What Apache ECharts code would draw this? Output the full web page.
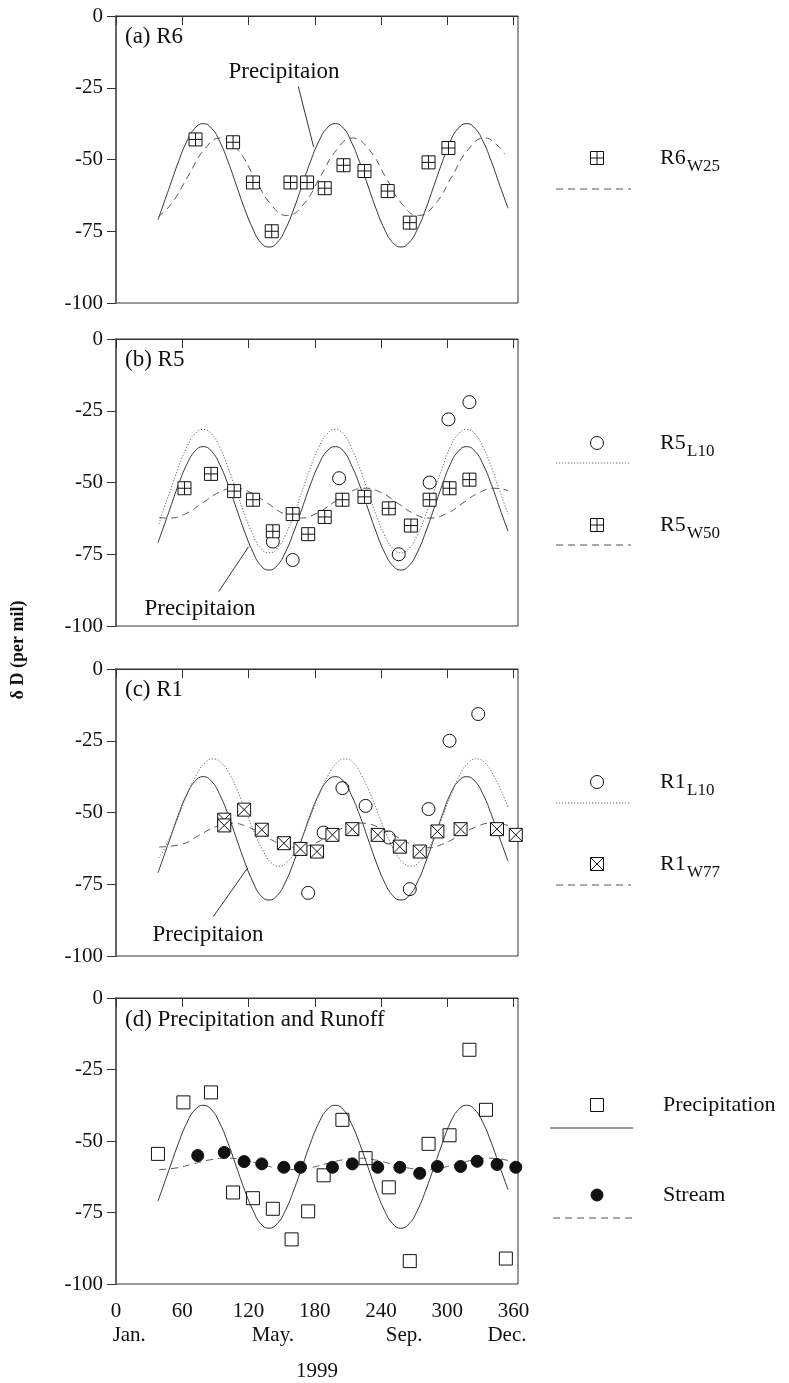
<!DOCTYPE html>
<html>
<head>
<meta charset="utf-8">
<script src="https://cdn.jsdelivr.net/npm/echarts@6/dist/echarts.min.js"></script>
<style>
html, body { margin: 0; background: #fff; }
#main { width: 789px; height: 1383px; }
</style>
</head>
<body>
<div id="main"></div>
<script>
// x = day of year 1999, y = delta D (per mil)
var dayTicks = [0, 60, 120, 180, 240, 300, 360];
var monthDays = [12, 142, 261, 354];
var monthNames = ['Jan.', 'May.', 'Sep.', 'Dec.'];

// precipitation fit curve, same in every panel
var precipFit = [[38,-71],[41.5,-67.2],[49,-59],[56.5,-50.8],[64,-43.8],[71.5,-39.1],[79,-37.5],[86.5,-39.1],[94,-43.8],[101.5,-50.8],[109,-59],[116.5,-67.2],[124,-74.2],[131,-78.9],[138.5,-80.5],[146,-78.9],[153.5,-74.2],[161,-67.2],[168.5,-59],[176,-50.8],[183.5,-43.8],[191,-39.1],[198.5,-37.5],[206,-39.1],[213,-43.8],[220.5,-50.8],[228,-59],[235.5,-67.2],[243,-74.2],[250.5,-78.9],[258,-80.5],[265.5,-78.9],[273,-74.2],[280.5,-67.2],[288,-59],[295.5,-50.8],[302.5,-43.8],[310,-39.1],[317.5,-37.5],[325,-39.1],[332.5,-43.8],[340,-50.8],[347.5,-59],[355,-67]];

// (a) R6
var r6W25Fit = [[38,-70],[50,-65.5],[65,-56],[80,-46.5],[95,-42.5],[110,-46.5],[125,-56],[140,-65.5],[155,-69.5],[170,-65.5],[185,-56],[200,-46.5],[214,-42.5],[229,-46.5],[244,-56],[259,-65.5],[274,-69.5],[289,-65.5],[304,-56],[319,-46.5],[334,-42.5],[345,-45],[352,-48]];
var r6W25 = [[72,-43],[106,-44],[124,-58],[141,-75],[158,-58],[173,-58],[189,-60],[206,-52],[225,-54],[246,-61],[266,-72],[283,-51],[301,-46]];

// (b) R5
var r5L10Fit = [[39,-64.5],[41.5,-61.2],[49,-53],[56.5,-44.8],[64,-37.8],[71.5,-33.1],[79,-31.5],[86.5,-33.1],[94,-37.8],[101.5,-44.8],[109,-53],[116.5,-61.2],[124,-68.2],[131,-72.9],[138.5,-74.5],[146,-72.9],[153.5,-68.2],[161,-61.2],[168.5,-53],[176,-44.8],[183.5,-37.8],[191,-33.1],[198.5,-31.5],[206,-33.1],[213,-37.8],[220.5,-44.8],[228,-53],[235.5,-61.2],[243,-68.2],[250.5,-72.9],[258,-74.5],[265.5,-72.9],[273,-68.2],[280.5,-61.2],[288,-53],[295.5,-44.8],[302.5,-37.8],[310,-33.1],[317.5,-31.5],[325,-33.1],[332.5,-37.8],[340,-44.8],[347.5,-53],[355,-61]];
var r5W50Fit = [[39,-62.2],[48,-62.4],[63,-60.9],[78,-57.2],[93,-53.5],[107,-52],[122,-53.5],[137,-57.2],[152,-60.9],[166,-62.4],[181,-60.9],[196,-57.2],[211,-53.5],[225,-52],[240,-53.5],[255,-57.2],[270,-60.9],[284,-62.4],[299,-60.9],[314,-57.2],[329,-53.5],[343,-52],[355,-52.8]];
var r5L10 = [[142,-70.6],[160,-77],[202,-48.5],[256,-75],[284,-50],[301,-28],[320,-22]];
var r5W50 = [[62,-52],[86,-47],[107,-53],[124,-56],[142,-67],[160,-61],[174,-68],[189,-62],[205,-56],[225,-55],[247,-59],[267,-65],[284,-56],[302,-52],[320,-49]];

// (c) R1
var r1L10Fit = [[39,-65.8],[43,-63.2],[50.5,-57.2],[58,-50],[65.5,-42.8],[73,-36.8],[80.5,-32.7],[88,-31.3],[95.5,-32.7],[103,-36.8],[110.5,-42.8],[118,-50],[125.5,-57.2],[133,-63.2],[140,-67.3],[147.5,-68.7],[155,-67.3],[162.5,-63.2],[170,-57.2],[177.5,-50],[185,-42.8],[192.5,-36.8],[200,-32.7],[207.5,-31.3],[215,-32.7],[222,-36.8],[229.5,-42.8],[237,-50],[244.5,-57.2],[252,-63.2],[259.5,-67.3],[267,-68.7],[274.5,-67.3],[282,-63.2],[289.5,-57.2],[297,-50],[304.5,-42.8],[311.5,-36.8],[319,-32.7],[326.5,-31.3],[334,-32.7],[341.5,-36.8],[349,-42.8],[355,-48]];
var r1W77Fit = [[39,-62],[60,-61],[75,-58],[90,-55],[104,-53.7],[119,-55],[134,-58],[149,-61],[163,-62.3],[178,-61],[193,-58],[208,-55],[222,-53.7],[237,-55],[252,-58],[267,-61],[281,-62.3],[296,-61],[311,-58],[326,-55],[340,-53.7],[355,-54.5]];
var r1L10 = [[174,-78],[188,-57],[205,-41.5],[226,-47.7],[247,-58.7],[266,-76.7],[283,-48.8],[302,-25],[328,-15.7]];
var r1W77 = [[98,-52.5],[98,-54.5],[116,-49],[132,-56],[152,-60.7],[167,-62.7],[182,-63.6],[196,-57.8],[214,-55.8],[237,-57.8],[257,-61.9],[275,-63.6],[291,-56.6],[312,-55.8],[345,-55.8],[362,-57.8]];

// (d) precipitation and runoff
var streamFit = [[39,-60],[55,-59.4],[70,-58],[85,-56.6],[100,-56],[115,-56.6],[130,-58],[145,-59.4],[160,-60],[175,-59.4],[190,-58],[205,-56.6],[219,-56],[234,-56.6],[249,-58],[264,-59.4],[279,-60],[294,-59.4],[309,-58],[324,-56.6],[338,-56],[355,-56.8]];
var precipObs = [[38,-54.5],[61,-36.5],[86,-33],[106,-68],[124,-70],[142,-73.7],[159,-84.4],[174,-74.6],[188,-62],[205,-42.6],[226,-56],[247,-66.2],[266,-92],[283,-51],[302,-48],[320,-18.1],[335,-39.1],[353,-91.1]];
var stream = [[74,-55.1],[98,-54],[116,-57.2],[132,-58],[152,-59.2],[167,-59.2],[196,-59.2],[214,-58],[237,-59.2],[257,-59.2],[275,-61.3],[291,-58.9],[312,-58.9],[327,-57.1],[345,-58.2],[362,-59.2]];

// "Precipitaion" leader lines, in data units
var leaders = [
  [[165,-24.5],[179,-45.7]],
  [[93,-88],[120,-72.4]],
  [[88,-86.3],[119,-69.4]]
];

var SERIF = '"Liberation Serif", "DejaVu Serif", serif';
var INK = '#111';
var boxPlus = 'path://M0,0L10,0L10,10L0,10Z M5,0L5,10 M0,5L10,5';
var boxCross = 'path://M0,0L10,0L10,10L0,10Z M0,0L10,10 M10,0L0,10';
var DASH = [7, 5];
var DOT = [1.2, 1.8];

var tops = [16, 339, 669, 998];

var grids = tops.map(function (t) {
  return { left: 116, width: 402, top: t, height: 287, show: true, borderColor: '#333', borderWidth: 1 };
});

var xAxes = tops.map(function (t, i) {
  var ax = {
    gridIndex: i, type: 'value', min: 0, max: 364, position: 'bottom',
    axisLine: { lineStyle: { color: '#333', width: 1 } },
    axisTick: { show: true, length: 9, customValues: dayTicks, lineStyle: { color: '#333' } },
    axisLabel: { show: i === 3, customValues: dayTicks, margin: 17, fontFamily: SERIF, fontSize: 21, color: INK },
    splitLine: { show: false }
  };
  if (i === 3) {
    ax.name = '1999';
    ax.nameLocation = 'middle';
    ax.nameGap = 77;
    ax.nameTextStyle = { fontFamily: SERIF, fontSize: 21, color: INK };
  }
  return ax;
});
// month names under the day numbers
xAxes.push({
  gridIndex: 3, type: 'value', min: 0, max: 364, position: 'bottom',
  axisLine: { show: false }, axisTick: { show: false }, splitLine: { show: false },
  axisLabel: {
    customValues: monthDays, margin: 41, fontFamily: SERIF, fontSize: 21, color: INK,
    formatter: function (v) { return monthNames[monthDays.indexOf(v)]; }
  }
});

var yAxes = tops.map(function (t, i) {
  return {
    gridIndex: i, type: 'value', min: -100, max: 0, interval: 25,
    axisLine: { show: true, lineStyle: { color: '#666', width: 2 } },
    axisTick: { show: true, length: 9, lineStyle: { color: '#333' } },
    axisLabel: { margin: 13, fontFamily: SERIF, fontSize: 21, color: INK },
    splitLine: { show: false }
  };
});

function fitLine(g, data, color, type) {
  return {
    type: 'line', xAxisIndex: g, yAxisIndex: g, data: data, smooth: true,
    symbol: 'none', silent: true, z: 2,
    lineStyle: { color: color, width: 1, type: type }
  };
}
function points(g, data, symbol, size, fill) {
  return {
    type: 'scatter', xAxisIndex: g, yAxisIndex: g, data: data, symbol: symbol,
    symbolSize: size, silent: true, z: 5,
    itemStyle: { color: fill, borderColor: INK, borderWidth: 1, opacity: 1 }
  };
}
function precipLine(g) {
  var s = fitLine(g, precipFit, '#333', 'solid');
  if (leaders[g]) {
    s.markLine = {
      silent: true, symbol: 'none', label: { show: false },
      lineStyle: { color: '#333', width: 1, type: 'solid' },
      data: [[{ coord: leaders[g][0] }, { coord: leaders[g][1] }]]
    };
  }
  return s;
}

var series = [
  precipLine(0),
  fitLine(0, r6W25Fit, '#555', DASH),
  points(0, r6W25, boxPlus, 13, '#fff'),

  precipLine(1),
  fitLine(1, r5L10Fit, '#666', DOT),
  fitLine(1, r5W50Fit, '#555', DASH),
  points(1, r5L10, 'circle', 13, 'rgba(255,255,255,0)'),
  points(1, r5W50, boxPlus, 13, '#fff'),

  precipLine(2),
  fitLine(2, r1L10Fit, '#666', DOT),
  fitLine(2, r1W77Fit, '#555', DASH),
  points(2, r1L10, 'circle', 13, 'rgba(255,255,255,0)'),
  points(2, r1W77, boxCross, 13, '#fff'),

  precipLine(3),
  fitLine(3, streamFit, '#555', DASH),
  points(3, precipObs, 'rect', 13, 'rgba(255,255,255,0)'),
  points(3, stream, 'circle', 12, INK)
];

// text and legend drawing helpers
function txt(x, y, s, size, opts) {
  opts = opts || {};
  return {
    type: 'text', x: x, y: y, rotation: opts.rotation || 0, silent: true,
    style: {
      text: s, fontFamily: SERIF, fontSize: size, fontWeight: opts.bold ? 'bold' : 'normal',
      fill: INK, align: opts.align || 'left', verticalAlign: 'middle'
    }
  };
}
function seg(x1, y1, x2, y2, color, dash) {
  var st = { stroke: color, lineWidth: 1 };
  if (dash) st.lineDash = dash;
  return { type: 'line', silent: true, shape: { x1: x1, y1: y1, x2: x2, y2: y2 }, style: st };
}
function lgLine(y, dash, color, x1, x2) {
  return seg(x1 || 556, y, x2 || 631, y, color, dash);
}
function lgBox(x, y, inner) {
  var h = 6.5;
  var out = [{ type: 'rect', silent: true, shape: { x: x - h, y: y - h, width: 2 * h, height: 2 * h }, style: { fill: '#fff', stroke: INK, lineWidth: 1 } }];
  if (inner === 'plus') {
    out.push(seg(x, y - h, x, y + h, INK), seg(x - h, y, x + h, y, INK));
  } else if (inner === 'cross') {
    out.push(seg(x - h, y - h, x + h, y + h, INK), seg(x + h, y - h, x - h, y + h, INK));
  }
  return out;
}
function lgCircle(x, y, r, fill) {
  return { type: 'circle', silent: true, shape: { cx: x, cy: y, r: r }, style: { fill: fill, stroke: INK, lineWidth: 1 } };
}
function lgLabel(x, y, main, sub) {
  var out = [txt(x, y, main, 22)];
  if (sub) out.push(txt(x + 27, y + 9, sub, 17));
  return out;
}

var graphics = [
  txt(125, 37, '(a) R6', 23),
  txt(125, 360, '(b) R5', 23),
  txt(125, 690, '(c) R1', 23),
  txt(125, 1020, '(d) Precipitation and Runoff', 23),
  txt(284, 72, 'Precipitaion', 23, { align: 'center' }),
  txt(200, 609, 'Precipitaion', 23, { align: 'center' }),
  txt(208, 935, 'Precipitaion', 23, { align: 'center' }),
  txt(18, 650, 'δ D (per mil)', 18, { align: 'center', bold: true, rotation: Math.PI / 2 }),

  lgLine(189, DASH, '#555'),
  lgCircle(597, 443, 6.5, '#fff'), lgLine(463, DOT, '#666'),
  lgLine(545, DASH, '#555'),
  lgCircle(597, 782, 6.5, '#fff'), lgLine(803, DOT, '#666'),
  lgLine(885, DASH, '#555'),
  lgLine(1128, null, '#333', 550, 633),
  lgCircle(597, 1195, 6, INK), lgLine(1218, DASH, '#555', 553, 636)
].concat(
  lgBox(597, 158, 'plus'),
  lgBox(597, 525, 'plus'),
  lgBox(597, 864, 'cross'),
  lgBox(597, 1105, null),
  lgLabel(660, 158, 'R6', 'W25'),
  lgLabel(660, 443, 'R5', 'L10'),
  lgLabel(660, 525, 'R5', 'W50'),
  lgLabel(660, 782, 'R1', 'L10'),
  lgLabel(660, 864, 'R1', 'W77'),
  lgLabel(663, 1105, 'Precipitation'),
  lgLabel(663, 1195, 'Stream')
);

var option = {
  backgroundColor: '#fff',
  animation: false,
  grid: grids,
  xAxis: xAxes,
  yAxis: yAxes,
  series: series,
  graphic: graphics
};

var myChart = echarts.init(document.getElementById('main'));
myChart.setOption(option);
</script>
</body>
</html>
